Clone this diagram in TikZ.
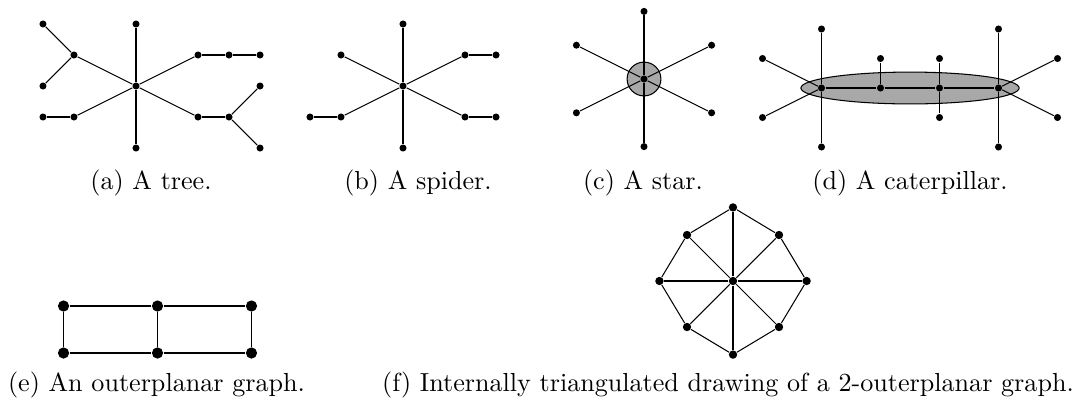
\documentclass[tikz,border=0pt]{standalone}
\usepackage{tikz}
\definecolor{blobGray}{HTML}{A8A8A8}

\begin{document}
\begin{tikzpicture}[x=0.3831pt, y=-0.3831pt,
    dot/.style={circle, fill, inner sep=0pt, minimum size=2.7pt},
    middot/.style={circle, fill, inner sep=0pt, minimum size=3.2pt},
    bigdot/.style={circle, fill, inner sep=0pt, minimum size=4.3pt},
    caption/.style={anchor=base}]
    \useasboundingbox (0,0) rectangle (1085,406);

    % (a) tree
    \begin{scope}[shift={(136,86)}, x=11.88pt, y=11.88pt]
        \node[dot] (tc) at (0,0) {};
        \node[dot] (tt) at (0,2) {};
        \node[dot] (tb) at (0,-2) {};
        \node[dot] (tl1) at (-2,1) {};
        \node[dot] (tl1a) at (-3,2) {};
        \node[dot] (tl1b) at (-3,0) {};
        \node[dot] (tl2) at (-2,-1) {};
        \node[dot] (tl2a) at (-3,-1) {};
        \node[dot] (tr1) at (2,1) {};
        \node[dot] (tr1a) at (3,1) {};
        \node[dot] (tr1b) at (4,1) {};
        \node[dot] (tr2) at (2,-1) {};
        \node[dot] (tr2a) at (3,-1) {};
        \node[dot] (tr2b) at (4,0) {};
        \node[dot] (tr2c) at (4,-2) {};
        \foreach \u/\v in {tc/tt, tc/tb, tc/tl1, tl1/tl1a, tl1/tl1b, tc/tl2, tl2/tl2a,
                tc/tr1, tr1/tr1a, tr1a/tr1b, tc/tr2, tr2/tr2a, tr2a/tr2b, tr2a/tr2c}
            \draw (\u) -- (\v);
    \end{scope}
    \node[caption] (capa) at (151,189) {(a) A tree.};

    % (b) spider
    \begin{scope}[shift={(403,86)}, x=11.88pt, y=11.88pt]
        \node[dot] (sc) at (0,0) {};
        \node[dot] (st) at (0,2) {};
        \node[dot] (sb) at (0,-2) {};
        \node[dot] (sl1) at (-2,1) {};
        \node[dot] (sl2) at (-2,-1) {};
        \node[dot] (sl2a) at (-3,-1) {};
        \node[dot] (sr1) at (2,1) {};
        \node[dot] (sr1a) at (3,1) {};
        \node[dot] (sr2) at (2,-1) {};
        \node[dot] (sr2a) at (3,-1) {};
        \foreach \u/\v in {sc/st, sc/sb, sc/sl1, sc/sl2, sl2/sl2a, sc/sr1, sr1/sr1a, sc/sr2, sr2/sr2a}
            \draw (\u) -- (\v);
    \end{scope}
    \node[caption] (capb) at (418,189) {(b) A spider.};

    % (c) star
    \begin{scope}[shift={(644,79)}, x=12.95pt, y=12.95pt]
        \filldraw[fill=blobGray] (0,0) circle (0.5);
        \node[dot] (rc) at (0,0) {};
        \foreach \n/\x/\y in {1/0/2, 2/2/1, 3/2/-1, 4/0/-2, 5/-2/-1, 6/-2/1} {
            \node[dot] (r\n) at (\x,\y) {};
            \draw (rc) -- (r\n);
        }
    \end{scope}
    \node[caption] (capc) at (643,189) {(c) A star.};

    % (d) caterpillar
    \begin{scope}[shift={(910,88)}, x=11.3pt, y=11.3pt]
        \filldraw[fill=blobGray] (0,0) ellipse (3.7 and 0.54);
        \node[dot] (k1) at (-3,0) {};
        \node[dot] (k2) at (-1,0) {};
        \node[dot] (k3) at (1,0) {};
        \node[dot] (k4) at (3,0) {};
        \node[dot] (k1t) at (-3,2) {};
        \node[dot] (k1b) at (-3,-2) {};
        \node[dot] (k1u) at (-5,1) {};
        \node[dot] (k1d) at (-5,-1) {};
        \node[dot] (k2t) at (-1,1) {};
        \node[dot] (k3t) at (1,1) {};
        \node[dot] (k3b) at (1,-1) {};
        \node[dot] (k4t) at (3,2) {};
        \node[dot] (k4b) at (3,-2) {};
        \node[dot] (k4u) at (5,1) {};
        \node[dot] (k4d) at (5,-1) {};
        \foreach \u/\v in {k1/k2, k2/k3, k3/k4, k1/k1t, k1/k1b, k1/k1u, k1/k1d, k2/k2t,
                k3/k3t, k3/k3b, k4/k4t, k4/k4b, k4/k4u, k4/k4d}
            \draw (\u) -- (\v);
    \end{scope}
    \node[caption] (capd) at (910,189) {(d) A caterpillar.};

    % (e) outerplanar
    \begin{scope}[shift={(157.5,329.5)}, x=18pt, y=18pt]
        \foreach \i/\x in {1/-2, 2/0, 3/2} {
            \node[bigdot] (et\i) at (\x,0.5) {};
            \node[bigdot] (eb\i) at (\x,-0.5) {};
            \draw (et\i) -- (eb\i);
        }
        \draw (et1) -- (et2) -- (et3);
        \draw (eb1) -- (eb2) -- (eb3);
    \end{scope}
    \node[caption] (cape) at (156.5,391) {(e) An outerplanar graph.};

    % (f) octagon
    \begin{scope}[shift={(733,281)}, x=17.62pt, y=17.62pt]
        \node[middot] (oc) at (0,0) {};
        \foreach \i/\x/\y in {1/0/1.6, 2/1/1, 3/1.6/0, 4/1/-1, 5/0/-1.6, 6/-1/-1, 7/-1.6/0, 8/-1/1}
            \node[middot] (o\i) at (\x,\y) {};
        \foreach \i in {1,...,8} {
            \pgfmathtruncatemacro\j{mod(\i,8)+1}
            \draw (o\i) -- (o\j);
            \draw (oc) -- (o\i);
        }
    \end{scope}
    \node[caption] (capf) at (728,391) {(f) Internally triangulated drawing of a 2-outerplanar graph.};
\end{tikzpicture}
\end{document}
